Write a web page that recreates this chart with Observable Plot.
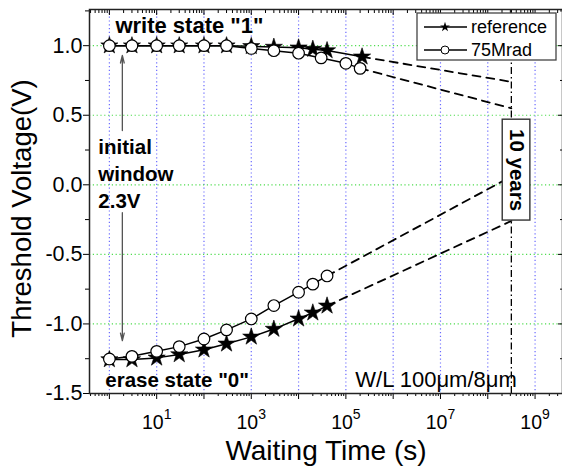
<!DOCTYPE html>
<html><head><meta charset="utf-8">
<script src="https://cdn.jsdelivr.net/npm/d3@7"></script>
<script src="https://cdn.jsdelivr.net/npm/@observablehq/plot@0.6"></script>
<style>body{margin:0;background:#fff}</style>
</head><body><div id="chart"></div>
<script>
// ---- data ----
const tRefWrite = [1, 3, 10, 30, 100, 300, 1000, 3000, 1e4, 2e4, 4e4, 2.2e5];
const vRefWrite = [1.0, 1.0, 1.0, 1.0, 1.0, 1.0, 0.995, 0.99, 0.985, 0.975, 0.965, 0.92];
const tRadWrite = [1, 3, 10, 30, 100, 300, 1000, 3000, 1e4, 3e4, 1e5, 2e5];
const vRadWrite = [1.0, 1.0, 1.0, 1.0, 1.0, 1.0, 0.98, 0.964, 0.946, 0.912, 0.873, 0.837];
const tErase = [1, 3, 10, 30, 100, 300, 1000, 3000, 1e4, 2e4, 4e4];
const vRefErase = [-1.256, -1.256, -1.244, -1.22, -1.186, -1.143, -1.093, -1.037, -0.963, -0.92, -0.87];
const vRadErase = [-1.252, -1.233, -1.197, -1.163, -1.108, -1.043, -0.964, -0.868, -0.772, -0.714, -0.655];
const tenYears = 3.15e8;
// extrapolated values at 10 years: [refWrite, radWrite, refErase, radErase]
const tenYearV = [0.74, 0.55, -0.26, 0.06];
const seriesNames = ["reference", "75Mrad"];
const xLabelExp = [1, 3, 5, 7, 9];
const yTicks = [-1.5, -1.0, -0.5, 0.0, 0.5, 1.0];
const yMinorTicks = [-1.25, -0.75, -0.25, 0.25, 0.75, 1.25];
const yGrid = [-1.0, -0.5, 0.0, 0.5, 1.0];

const xDomain = [0.38, 3.8e9];
const xMajor = d3.range(0, 10).map(e => 10 ** e);
const xMinor = [];
for (let e = -1; e <= 9; e++) for (let m = 2; m <= 9; m++) {
  const v = m * 10 ** e;
  if (v >= xDomain[0] && v <= xDomain[1]) xMinor.push(v);
}

const rows = (ts, vs) => ts.map((t, i) => ({t, v: vs[i]}));
const refW = rows(tRefWrite, vRefWrite);
const radW = rows(tRadWrite, vRadWrite);
const refE = rows(tErase, vRefErase);
const radE = rows(tErase, vRadErase);
const ext = (r, v10) => [r[r.length - 1], {t: tenYears, v: v10}];
const dashes = [ext(refW, tenYearV[0]), ext(radW, tenYearV[1]), ext(refE, tenYearV[2]), ext(radE, tenYearV[3])];

const font = "'Liberation Sans', Arial, Helvetica, sans-serif";
const lineOpts = {x: "t", y: "v", stroke: "black", strokeWidth: 1.5};
const starOpts = {x: "t", y: "v", symbol: "star", r: 5.4, fill: "black", stroke: "black", strokeWidth: 0.6};
const circOpts = {x: "t", y: "v", symbol: "circle", r: 5.8, fill: "white", stroke: "black", strokeWidth: 1.2};
const dashOpts = {x: "t", y: "v", stroke: "black", strokeWidth: 1.8, strokeDasharray: "8,6"};
const bold = {fontWeight: "bold", fontSize: 20.5, fill: "black"};

const chart = Plot.plot({
  width: 562, height: 471,
  marginLeft: 89, marginRight: 0, marginTop: 9, marginBottom: 78,
  style: {fontFamily: font, background: "white", color: "black"},
  x: {type: "log", domain: xDomain},
  y: {domain: [-1.5, 1.26]},
  marks: [
    Plot.ruleX(xMajor, {stroke: "#6b6bff", strokeWidth: 1.2, strokeDasharray: "1.2,2.6"}),
    Plot.ruleY(yGrid, {stroke: "#4fdc4f", strokeWidth: 1.2, strokeDasharray: "1.2,2.6"}),
    // axes
    Plot.axisX(xMajor, {anchor: "bottom", tickSize: 6, tickFormat: () => "", label: null}),
    Plot.axisX(xMinor, {anchor: "bottom", tickSize: 3, tickFormat: () => "", label: null}),
    Plot.axisX(xMajor, {anchor: "top", tickSize: 5, dy: 5, tickFormat: () => "", label: null}),
    Plot.axisX(xMinor, {anchor: "top", tickSize: 3, dy: 3, tickFormat: () => "", label: null}),
    Plot.axisY(yTicks, {anchor: "left", tickSize: 6, tickPadding: 1, fontSize: 21.5, tickFormat: d => d.toFixed(1), label: null}),
    Plot.axisY(yMinorTicks, {anchor: "left", tickSize: 4, tickFormat: () => "", label: null}),
    Plot.axisY(yTicks, {anchor: "right", tickSize: 5, dx: -5, tickFormat: () => "", label: null}),
    Plot.axisY(yMinorTicks, {anchor: "right", tickSize: 3, dx: -3, tickFormat: () => "", label: null}),
    Plot.text(xLabelExp, {x: e => 10 ** e, frameAnchor: "bottom", dy: 35, textAnchor: "middle", lineAnchor: "bottom", text: e => "10^" + e, fontSize: 19.5, fill: "black"}),
    Plot.text(["Waiting Time (s)"], {frameAnchor: "bottom", dy: 58, textAnchor: "middle", lineAnchor: "middle", fontSize: 28, fill: "black"}),
    Plot.text(["Threshold Voltage(V)"], {frameAnchor: "left", dx: -67, dy: 7, rotate: -90, textAnchor: "middle", lineAnchor: "middle", fontSize: 27.5, fill: "black"}),
    // extrapolations
    ...dashes.map(d => Plot.line(d, dashOpts)),
    Plot.ruleX([tenYears], {stroke: "black", strokeWidth: 1.3, strokeDasharray: "7,3,1.5,3"}),
    Plot.rect([{x1: 2.07e8, x2: 7.95e8, y1: -0.257, y2: 0.468}], {x1: "x1", x2: "x2", y1: "y1", y2: "y2", fill: "white", stroke: "#333", strokeWidth: 1.4}),
    Plot.text(["10 years"], {x: 4.03e8, y: 0.106, rotate: 90, textAnchor: "middle", lineAnchor: "middle", ...bold}),
    // data
    Plot.line(refW, lineOpts), Plot.line(radW, lineOpts),
    Plot.line(refE, lineOpts), Plot.line(radE, lineOpts),
    Plot.dot(refW, starOpts), Plot.dot(refE, starOpts),
    Plot.dot(radW, circOpts), Plot.dot(radE, circOpts),
    // annotations
    Plot.arrow([{y1: 0.39, y2: 0.93}, {y1: -0.2, y2: -1.12}], {x1: () => 1.88, x2: () => 1.88, y1: "y1", y2: "y2", stroke: "#555", strokeWidth: 1.3, headLength: 9, headAngle: 28}),
    Plot.text(['write state "1"'], {x: 1.34, y: 1.093, textAnchor: "start", lineAnchor: "bottom", ...bold, fontSize: 22}),
    Plot.text(["initial", "window", "2.3V"], {x: 0.585, y: [0.224, 0.03, -0.164], textAnchor: "start", lineAnchor: "bottom", ...bold}),
    Plot.text(['erase state "0"'], {x: 0.82, y: -1.455, textAnchor: "start", lineAnchor: "bottom", ...bold}),
    Plot.text(["W/L 100μm/8μm"], {x: 1.58e5, y: -1.455, textAnchor: "start", lineAnchor: "bottom", fontSize: 22, fill: "black"}),
    Plot.frame({stroke: "#222", strokeWidth: 1.5})
  ]
});
document.getElementById("chart").appendChild(chart);

const svg = d3.select(chart);
// superscripts for the log tick labels
svg.selectAll("text").each(function () {
  const m = /^10\^(\d)$/.exec(this.textContent);
  if (!m) return;
  const t = d3.select(this);
  t.text(null);
  t.append("tspan").text("10");
  t.append("tspan").attr("dy", -10).attr("font-size", 14).text(m[1]);
});

// legend
const lg = svg.append("g").attr("font-family", font).attr("text-anchor", "start");
lg.append("rect").attr("x", 417).attr("y", 13).attr("width", 139).attr("height", 47)
  .attr("fill", "#fff").attr("stroke", "#444").attr("stroke-width", 1.3);
[27, 50].forEach((y, i) => {
  lg.append("line").attr("x1", 424).attr("x2", 467).attr("y1", y).attr("y2", y)
    .attr("stroke", "#000").attr("stroke-width", 1.5);
  if (i === 0) {
    lg.append("path").attr("d", d3.symbol(d3.symbolStar, 30)()).attr("transform", `translate(445,${y})`).attr("fill", "#000");
  } else {
    lg.append("circle").attr("cx", 445).attr("cy", y).attr("r", 4).attr("fill", "#fff").attr("stroke", "#000").attr("stroke-width", 1);
  }
  lg.append("text").attr("x", 471).attr("y", y).attr("dy", "0.35em").attr("text-anchor", "start")
    .attr("font-size", 18).attr("fill", "#000").text(seriesNames[i]);
});
</script>
</body></html>
